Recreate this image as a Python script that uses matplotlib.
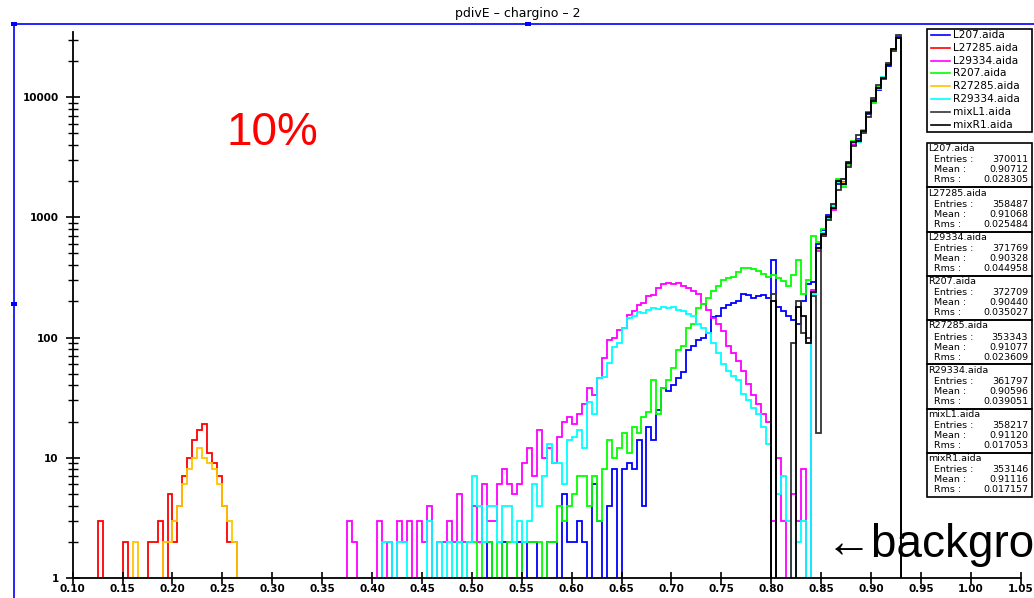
import numpy as np
import matplotlib.pyplot as plt
from matplotlib.lines import Line2D
from matplotlib.patches import Rectangle
from matplotlib.ticker import FixedLocator, NullFormatter

W, H = 1034, 598
bin_w = 0.005

names = ["L207.aida", "L27285.aida", "L29334.aida", "R207.aida",
         "R27285.aida", "R29334.aida", "mixL1.aida", "mixR1.aida"]
colors = ["#0000ff", "#ff0000", "#ff00ff", "#00ff00",
          "#ffc400", "#00ffff", "#333333", "#000000"]

entries = [370011, 358487, 371769, 372709, 353343, 361797, 358217, 353146]
means = ["0.90712", "0.91068", "0.90328", "0.90440",
         "0.91077", "0.90596", "0.91120", "0.91116"]
rmses = ["0.028305", "0.025484", "0.044958", "0.035027",
         "0.023609", "0.039051", "0.017053", "0.017157"]

# counts per 0.005 bin, each list starts at the given lower edge
l207_start = 0.515
l207 = [2, 0, 0, 2, 0, 0, 2, 0, 2, 2,
        0, 0, 2, 2, 0, 5, 2, 2, 3, 2,
        0, 6, 3, 0, 4, 8, 0, 8, 9, 8,
        14, 4, 18, 14, 25, 38, 36, 40, 46, 52,
        78, 85, 95, 100, 110, 147, 150, 177, 185, 195,
        200, 230, 225, 215, 220, 225, 215, 440, 180, 165,
        150, 140, 130, 200, 280,
        290, 600, 780, 1050, 1300, 1900, 2100, 2900, 4000, 4500,
        5100, 7200, 9400, 11500, 14500, 18000, 25000, 31500]

l27285_start = 0.125
l27285 = [3, 0, 0, 0, 0, 2, 0, 0, 0, 0,
          2, 2, 3, 0, 5, 2, 4, 7, 10, 14,
          17, 19, 11, 9, 7, 4, 2, 2]
l27285_tail_start = 0.845
l27285_tail = [560, 720, 1010, 1180, 2050, 1880, 2750, 4250, 4300, 5150,
               7450, 9150, 11900, 14400, 18600, 24900, 30900]

l29334_start = 0.375
l29334 = [3, 2, 0, 0, 0, 0, 3, 0, 2, 0,
          3, 2, 3, 0, 3, 2, 4, 0, 2, 2,
          3, 2, 5, 2, 2, 4, 2, 6, 3, 3,
          6, 8, 6, 5, 6, 9, 12, 7, 17, 10,
          12, 9, 15, 20, 22, 19, 23, 28, 38, 33,
          46, 67, 95, 100, 115, 120, 155, 165, 185, 195,
          220, 225, 260, 280, 285, 278, 282, 270, 260, 245,
          230, 190, 170, 145, 130, 114, 85, 75, 64, 53,
          41, 33, 28, 23, 20, 3, 10, 3, 0, 5,
          3, 8, 0,
          250, 520, 700, 1000, 1150, 1950, 1950, 2800, 4100, 4350,
          5250, 7500, 9100, 11900, 14300, 18700, 25200, 30800]

r207_start = 0.485
r207 = [2, 0, 2, 2, 0, 2, 2, 0, 2, 0,
        2, 2, 0, 2, 2, 2, 2, 0, 2, 2,
        4, 3, 4, 5, 7, 7, 4, 7, 3, 8,
        14, 10, 12, 16, 11, 18, 16, 22, 24, 44,
        23, 38, 44, 56, 78, 85, 120, 130, 177, 190,
        215, 245, 270, 300, 315, 320, 350, 375, 380, 370,
        360, 340, 320, 330, 310, 296, 270, 330, 440, 230,
        300,
        700, 620, 800, 950, 1300, 2100, 1800, 2700, 4300, 4200,
        5300, 7300, 9000, 12000, 14800, 18800, 24500, 31000]

r27285_start = 0.16
r27285 = [2, 0, 0, 0, 0, 0, 2, 2, 3, 4,
          6, 8, 10, 12, 10, 9, 8, 6, 4, 3, 2]
r27285_tail_start = 0.845
r27285_tail = [540, 740, 990, 1220, 1980, 1920, 2820, 4180, 4320, 5220,
               7380, 9220, 11750, 14550, 18450, 25100, 31100]

r29334_start = 0.41
r29334 = [2, 2, 0, 2, 2, 0, 0, 0, 0, 3,
          0, 2, 0, 2, 0, 2, 0, 2, 7, 4,
          2, 4, 4, 2, 4, 4, 2, 3, 2, 3,
          6, 4, 7, 13, 9, 9, 6, 14, 15, 17,
          12, 29, 23, 46, 47, 61, 83, 90, 120, 144,
          150, 162, 160, 168, 177, 172, 180, 176, 178, 170,
          165, 158, 150, 130, 120, 108, 90, 74, 60, 53,
          48, 44, 34, 30, 26, 23, 18, 13, 0, 5,
          7, 3, 0, 2, 3, 0,
          230, 540, 740, 990, 1250, 1950, 1850, 2850, 4150, 4250,
          5150, 7350, 9250, 11700, 14600, 18400, 24800, 31200]

mixl1_start = 0.80
mixl1 = [230, 0, 0, 0, 90, 200, 110, 100, 220, 16,
         700, 950, 1300, 1700, 2100, 2600, 3900, 4800, 5000, 6800,
         9800, 12500, 14000, 19000, 24000, 33000]

mixr1_start = 0.80
mixr1 = [200, 0, 0, 0, 0, 180, 150, 90, 240, 550,
         730, 1000, 1200, 2000, 1900, 2800, 4200, 4300, 5200, 7400,
         9200, 11800, 14500, 18500, 25000, 31000]

series = [
    [(l207_start, l207, 0.5)],
    [(l27285_start, l27285, 0.5), (l27285_tail_start, l27285_tail, None)],
    [(l29334_start, l29334, 0.5)],
    [(r207_start, r207, 0.5)],
    [(r27285_start, r27285, 0.5), (r27285_tail_start, r27285_tail, None)],
    [(r29334_start, r29334, 0.5)],
    [(mixl1_start, mixl1, 0.5)],
    [(mixr1_start, mixr1, 0.5)],
]


def fx(px):
    return px / W


def fy(py):
    return 1 - py / H


plt.rcParams['font.family'] = ['DejaVu Sans']
fig = plt.figure(figsize=(W / 100, H / 100), dpi=100)

ax_l, ax_r, ax_t, ax_b = 72.7, 1020.7, 32, 578
ax = fig.add_axes([fx(ax_l), fy(ax_b), (ax_r - ax_l) / W, (ax_b - ax_t) / H])

for segs, col in zip(series, colors):
    for start, counts, base in segs:
        c = np.asarray(counts, float)
        edges = start + bin_w * np.arange(len(c) + 1)
        vals = np.where(c > 0, c, 0.5)
        ax.stairs(vals, edges, baseline=base, color=col, lw=1.3)

ax.set_yscale('log')
ax.set_xlim(0.10, 1.05)
ax.set_ylim(1, 10 ** ((ax_b - ax_t) / 120.25))

for s in ['top', 'right']:
    ax.spines[s].set_visible(False)
for s in ['left', 'bottom']:
    ax.spines[s].set_linewidth(1.3)

xt = np.arange(0.10, 1.0501, 0.05)
ax.xaxis.set_major_locator(FixedLocator(xt))
ax.set_xticklabels([f"{v:.2f}" for v in xt])
ax.yaxis.set_major_locator(FixedLocator([1, 10, 100, 1000, 10000]))
ax.set_yticklabels(["1", "10", "100", "1000", "10000"])
minor = [m * 10 ** e for e in range(0, 5) for m in range(2, 10)]
ax.yaxis.set_minor_locator(FixedLocator(minor))
ax.yaxis.set_minor_formatter(NullFormatter())
ax.xaxis.set_minor_locator(FixedLocator([]))
ax.tick_params(axis='x', which='major', direction='inout', length=8, width=1.2,
               labelsize=7.5, pad=0)
ax.tick_params(axis='y', which='major', direction='inout', length=10, width=1.2,
               labelsize=7.5, pad=5)
ax.tick_params(axis='y', which='minor', direction='inout', length=7, width=1.0)
for lab in ax.get_xticklabels() + ax.get_yticklabels():
    lab.set_fontweight('bold')

fig.text(fx(518), fy(14), "pdivE \u2013 chargino \u2013 2", ha='center', va='center',
         fontsize=9)

# selection frame of the canvas
fig.add_artist(Line2D([fx(14), 1], [fy(24), fy(24)], color='#0000ff', lw=1.2))
fig.add_artist(Line2D([fx(14), fx(14)], [fy(24), 0], color='#0000ff', lw=1.2))
for hx, hy in [(14, 24), (14, 304), (528, 24)]:
    fig.add_artist(Rectangle((fx(hx - 3), fy(hy + 2)), 6 / W, 4 / H,
                             color='#0000ff', lw=0))

# legend box
fig.add_artist(Rectangle((fx(927), fy(132)), 105 / W, 103 / H, fill=False,
                         ec='black', lw=1.2))
for i, (nm, col) in enumerate(zip(names, colors)):
    yy = 35 + i * 12.8
    fig.add_artist(Line2D([fx(931), fx(950)], [fy(yy), fy(yy)], color=col, lw=1.2))
    fig.text(fx(953), fy(yy), nm, ha='left', va='center', fontsize=7.6)

# stats boxes
box_top, box_h = 143, 44.25
for i, nm in enumerate(names):
    t = box_top + i * box_h
    fig.add_artist(Rectangle((fx(927), fy(t + box_h)), 105 / W, box_h / H,
                             fill=False, ec='black', lw=1.2))
    fig.text(fx(928), fy(t + 6), nm, ha='left', va='center', fontsize=6.8)
    rows = [("Entries :", str(entries[i])), ("Mean :", means[i]),
            ("Rms :", rmses[i])]
    for j, (lab, val) in enumerate(rows):
        yy = t + 17 + j * 10
        fig.text(fx(934), fy(yy), lab, ha='left', va='center', fontsize=6.8)
        fig.text(fx(1028), fy(yy), val, ha='right', va='center', fontsize=6.8)

fig.text(fx(272), fy(133), "10%", ha='center', va='center', color='#ff0000',
         fontsize=33, family=['Liberation Sans', 'DejaVu Sans'])
fig.text(fx(826), fy(557), "\u2190backgro", ha='left', va='baseline',
         color='black', fontsize=33, family=['Liberation Sans', 'DejaVu Sans'])

fig.savefig("out.png", dpi=100)
